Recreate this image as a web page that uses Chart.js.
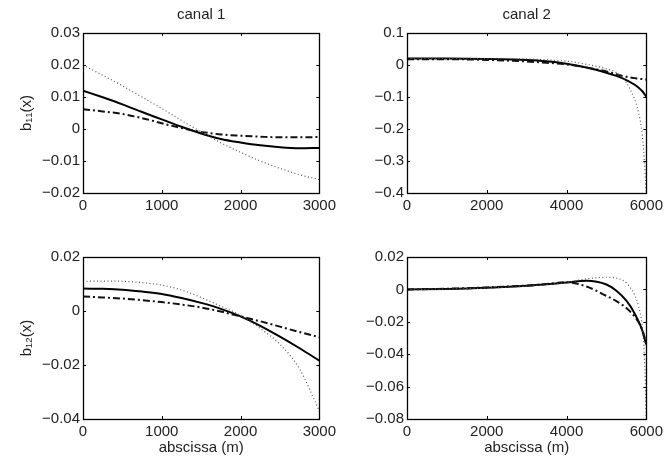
<!DOCTYPE html>
<html>
<head>
<meta charset="utf-8">
<script src="https://cdn.jsdelivr.net/npm/chart.js@4.4.1/dist/chart.umd.min.js"></script>
<style>
  body { margin: 0; background: #fff; }
  canvas { position: absolute; }
</style>
</head>
<body>
<canvas id="b11c1" width="340" height="215" style="left:0;top:0"></canvas>
<canvas id="b11c2" width="327" height="215" style="left:340px;top:0"></canvas>
<canvas id="b12c1" width="340" height="234" style="left:0;top:225px"></canvas>
<canvas id="b12c2" width="327" height="234" style="left:340px;top:225px"></canvas>
<script>
// abscissa samples (m)
const canal1X = [0, 250, 500, 750, 1000, 1250, 1500, 1750, 2000, 2250, 2500, 2750, 3000];
const canal2X = [0, 1000, 2000, 3000, 3500, 4000, 4500, 5000, 5250, 5500, 5700, 5800, 5900, 5950, 6000];

// b11, canal 1
const b11c1Solid   = [0.0120, 0.0099, 0.0077, 0.0053, 0.0030, 0.0007, -0.0014, -0.0031, -0.0042, -0.0051, -0.0057, -0.0060, -0.0059];
const b11c1DashDot = [0.0062, 0.0055, 0.0047, 0.0034, 0.0018, 0.0003, -0.0009, -0.0017, -0.0021, -0.0024, -0.0026, -0.0026, -0.0025];
const b11c1Dotted  = [0.0200, 0.0168, 0.0135, 0.0100, 0.0064, 0.0027, -0.0009, -0.0043, -0.0073, -0.0100, -0.0123, -0.0143, -0.0158];

// b11, canal 2
const b11c2Solid   = [0.020, 0.020, 0.019, 0.016, 0.012, 0.004, -0.008, -0.024, -0.034, -0.047, -0.061, -0.070, -0.082, -0.090, -0.099];
const b11c2DashDot = [0.018, 0.018, 0.016, 0.011, 0.007, 0.002, -0.008, -0.020, -0.029, -0.037, -0.041, -0.043, -0.044, -0.045, -0.045];
const b11c2Dotted  = [0.021, 0.021, 0.020, 0.019, 0.016, 0.012, 0.002, -0.012, -0.024, -0.055, -0.105, -0.145, -0.220, -0.300, -0.400];

// b12, canal 1
const b12c1Solid   = [0.0083, 0.0082, 0.0079, 0.0072, 0.0063, 0.0048, 0.0030, 0.0008, -0.0020, -0.0055, -0.0095, -0.0138, -0.0184];
const b12c1DashDot = [0.0054, 0.0050, 0.0046, 0.0040, 0.0033, 0.0024, 0.0013, -0.0002, -0.0020, -0.0038, -0.0058, -0.0078, -0.0097];
const b12c1Dotted  = [0.0110, 0.0111, 0.0110, 0.0105, 0.0096, 0.0078, 0.0050, 0.0018, -0.0016, -0.0065, -0.0123, -0.0215, -0.0370];

// b12, canal 2
const b12c2Solid   = [0.0000, 0.0003, 0.0010, 0.0022, 0.0032, 0.0042, 0.0053, 0.0030, -0.0008, -0.0070, -0.0145, -0.0195, -0.0255, -0.0300, -0.0340];
const b12c2DashDot = [0.0000, 0.0004, 0.0012, 0.0024, 0.0033, 0.0044, 0.0018, -0.0040, -0.0072, -0.0115, -0.0165, -0.0200, -0.0250, -0.0290, -0.0340];
const b12c2Dotted  = [0.0000, 0.0002, 0.0008, 0.0020, 0.0030, 0.0042, 0.0065, 0.0075, 0.0070, 0.0040, -0.0030, -0.0100, -0.0230, -0.0400, -0.0800];

// tick values
const xTicksCanal1 = [0, 1000, 2000, 3000];
const xTicksCanal2 = [0, 2000, 4000, 6000];
const yTicksB11c1 = [-0.02, -0.01, 0, 0.01, 0.02, 0.03];
const yTicksB11c2 = [-0.4, -0.3, -0.2, -0.1, 0, 0.1];
const yTicksB12c1 = [-0.04, -0.02, 0, 0.02];
const yTicksB12c2 = [-0.08, -0.06, -0.04, -0.02, 0, 0.02];

const FONT_FAMILY = '"Liberation Sans", Arial, Helvetica, sans-serif';
const TEXT_COLOR = '#222';
const fmt = v => String(v).replace('-', '\u2212');

// matlab style box with inward ticks on all sides
const boxPlugin = {
  id: 'matlabBox',
  afterDatasetsDraw(chart) {
    const { ctx, chartArea: a, scales: { x, y } } = chart;
    const len = 3;
    ctx.save();
    ctx.strokeStyle = '#000';
    ctx.lineWidth = 1;
    x.ticks.forEach(t => {
      const px = Math.round(x.getPixelForValue(t.value)) + 0.5;
      ctx.beginPath();
      ctx.moveTo(px, a.bottom); ctx.lineTo(px, a.bottom - len);
      ctx.moveTo(px, a.top); ctx.lineTo(px, a.top + len);
      ctx.stroke();
    });
    y.ticks.forEach(t => {
      const py = Math.round(y.getPixelForValue(t.value)) + 0.5;
      ctx.beginPath();
      ctx.moveTo(a.left, py); ctx.lineTo(a.left + len, py);
      ctx.moveTo(a.right, py); ctx.lineTo(a.right - len, py);
      ctx.stroke();
    });
    ctx.lineWidth = 1.3;
    ctx.strokeRect(Math.round(a.left) + 0.5, Math.round(a.top) + 0.5,
                   Math.round(a.right - a.left), Math.round(a.bottom - a.top));
    ctx.restore();
  }
};

function makePanel(id, p) {
  const pts = ys => p.xs.map((x, i) => ({ x, y: ys[i] }));
  const font = { family: FONT_FAMILY, size: 15 };
  return new Chart(document.getElementById(id), {
    type: 'line',
    data: {
      datasets: [
        { data: pts(p.dotted), borderColor: '#555', borderWidth: 1.2, borderDash: [1, 2.5] },
        { data: pts(p.dashDot), borderColor: '#111', borderWidth: 2, borderDash: [7, 3, 2, 3] },
        { data: pts(p.solid), borderColor: '#000', borderWidth: 2 },
      ]
    },
    options: {
      responsive: false,
      animation: false,
      elements: {
        point: { radius: 0 },
        line: { cubicInterpolationMode: 'monotone', fill: false }
      },
      layout: { padding: p.padding },
      plugins: {
        legend: { display: false },
        tooltip: { enabled: false },
        title: {
          display: !!p.title,
          text: p.title,
          fullSize: false,
          color: TEXT_COLOR,
          font: { family: FONT_FAMILY, size: 15, weight: 'normal' },
          padding: { top: 6, bottom: 9 }
        }
      },
      scales: {
        x: {
          type: 'linear',
          min: p.xTicks[0],
          max: p.xTicks[p.xTicks.length - 1],
          grid: { display: false, drawTicks: false },
          border: { display: false },
          afterBuildTicks: s => { s.ticks = p.xTicks.map(v => ({ value: v })); },
          afterFit: s => { s.height = p.xHeight; },
          ticks: { font, color: TEXT_COLOR, padding: 4, maxRotation: 0, autoSkip: false, callback: fmt },
          title: {
            display: !!p.xLabel,
            text: p.xLabel,
            font, color: TEXT_COLOR,
            padding: { top: 0, bottom: 2 }
          }
        },
        y: {
          min: p.yTicks[0],
          max: p.yTicks[p.yTicks.length - 1],
          grid: { display: false, drawTicks: false },
          border: { display: false },
          afterBuildTicks: s => { s.ticks = p.yTicks.map(v => ({ value: v })); },
          afterFit: s => { s.width = p.yWidth; },
          ticks: { font, color: TEXT_COLOR, padding: 3, autoSkip: false, callback: fmt },
          title: {
            display: !!p.yLabel,
            text: p.yLabel,
            font, color: TEXT_COLOR,
            padding: { top: 18, bottom: 0 }
          }
        }
      }
    },
    plugins: [boxPlugin]
  });
}

makePanel('b11c1', {
  xs: canal1X, solid: b11c1Solid, dashDot: b11c1DashDot, dotted: b11c1Dotted,
  xTicks: xTicksCanal1, yTicks: yTicksB11c1,
  title: 'canal 1', yLabel: 'b\u2081\u2081(x)',
  yWidth: 83, xHeight: 22, padding: { top: 0, right: 15, bottom: 0, left: 0 }
});
makePanel('b11c2', {
  xs: canal2X, solid: b11c2Solid, dashDot: b11c2DashDot, dotted: b11c2Dotted,
  xTicks: xTicksCanal2, yTicks: yTicksB11c2,
  title: 'canal 2',
  yWidth: 67, xHeight: 22, padding: { top: 0, right: 17, bottom: 0, left: 0 }
});
makePanel('b12c1', {
  xs: canal1X, solid: b12c1Solid, dashDot: b12c1DashDot, dotted: b12c1Dotted,
  xTicks: xTicksCanal1, yTicks: yTicksB12c1,
  yLabel: 'b\u2081\u2082(x)', xLabel: 'abscissa (m)',
  yWidth: 83, xHeight: 40, padding: { top: 32, right: 15, bottom: 0, left: 0 }
});
makePanel('b12c2', {
  xs: canal2X, solid: b12c2Solid, dashDot: b12c2DashDot, dotted: b12c2Dotted,
  xTicks: xTicksCanal2, yTicks: yTicksB12c2,
  xLabel: 'abscissa (m)',
  yWidth: 67, xHeight: 40, padding: { top: 32, right: 17, bottom: 0, left: 0 }
});
</script>
</body>
</html>
